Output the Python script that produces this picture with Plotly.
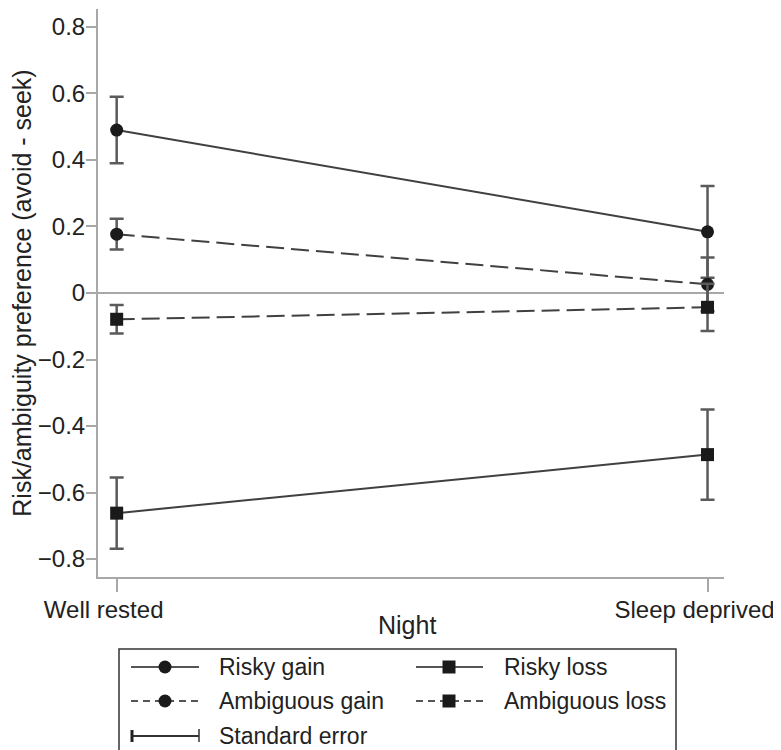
import plotly.graph_objects as go

# ---- data ----
nights = ["Well rested", "Sleep deprived"]
risky_gain = [0.49, 0.184]
risky_gain_se = [0.10, 0.138]
ambig_gain = [0.177, 0.026]
ambig_gain_se = [0.046, 0.081]
ambig_loss = [-0.079, -0.043]
ambig_loss_se = [0.043, 0.071]
risky_loss = [-0.662, -0.486]
risky_loss_se = [0.107, 0.136]

series = [
    ("Risky gain", risky_gain, risky_gain_se, "circle", "solid"),
    ("Ambiguous gain", ambig_gain, ambig_gain_se, "circle", "18px,7px"),
    ("Ambiguous loss", ambig_loss, ambig_loss_se, "square", "18px,7px"),
    ("Risky loss", risky_loss, risky_loss_se, "square", "solid"),
]

FONT = "Liberation Sans, Arial, sans-serif"
FS_LEG = 23
FS_AX = 25
OFF = 8  # page body margin offset
W, H = 781 - OFF, 750 - OFF
ML, MR, MT, MB = 98 - OFF, 57, 9 - OFF, 173
PW, PH = W - ML - MR, H - MT - MB

LINE_C = "#404040"
MARK_C = "#1a1a1a"
ERR_C = "#5a5a5a"
AXIS_C = "#a8a8a8"
TEXT_C = "#222222"

fig = go.Figure()
for name, vals, se, sym, dash in series:
    fig.add_trace(go.Scatter(
        x=nights, y=vals, name=name, mode="lines+markers",
        line=dict(color=LINE_C, width=2, dash=dash),
        marker=dict(symbol=sym, size=13, color=MARK_C),
        error_y=dict(type="data", array=se, visible=True, color=ERR_C,
                     thickness=2.5, width=7),
        showlegend=False,
    ))


def px(xs):
    return (xs - OFF - ML) / PW


def py(ys):
    return (H - MB - (ys - OFF)) / PH


shapes = []
annotations = []

# x-axis title
annotations.append(dict(text="Night", xref="paper", yref="paper",
                        x=px(407), y=py(625), xanchor="center", yanchor="middle",
                        showarrow=False,
                        font=dict(family=FONT, size=FS_AX, color=TEXT_C)))

# legend box
shapes.append(dict(type="rect", xref="paper", yref="paper",
                   x0=px(119), x1=px(676), y0=py(649), y1=py(775),
                   line=dict(color="#333333", width=1.5), fillcolor="rgba(0,0,0,0)"))

legend_items = [
    ("Risky gain", "circle", "solid", 131, 199, 165, 217, 667),
    ("Risky loss", "square", "solid", 416, 483, 449, 502, 667),
    ("Ambiguous gain", "circle", "7px,5px", 131, 199, 165, 217, 701),
    ("Ambiguous loss", "square", "7px,5px", 416, 483, 449, 502, 701),
]
for label, sym, dash, lx0, lx1, mx, tx, ly in legend_items:
    shapes.append(dict(type="line", xref="paper", yref="paper",
                       x0=px(lx0), x1=px(lx1), y0=py(ly), y1=py(ly),
                       line=dict(color="#555555", width=2, dash=dash)))
    shapes.append(dict(type="circle" if sym == "circle" else "rect",
                       xref="paper", yref="paper",
                       xsizemode="pixel", ysizemode="pixel",
                       xanchor=px(mx), yanchor=py(ly),
                       x0=-6.5, x1=6.5, y0=-6.5, y1=6.5,
                       fillcolor=MARK_C, line=dict(color=MARK_C, width=0)))
    annotations.append(dict(text=label, xref="paper", yref="paper",
                            x=px(tx), y=py(ly), xanchor="left", yanchor="middle",
                            showarrow=False,
                            font=dict(family=FONT, size=FS_LEG, color=TEXT_C)))

# standard error symbol
se_y = 736
shapes.append(dict(type="line", xref="paper", yref="paper",
                   x0=px(131), x1=px(199), y0=py(se_y), y1=py(se_y),
                   line=dict(color="#333333", width=2)))
shapes.append(dict(type="line", xref="paper", yref="paper",
                   x0=px(132), x1=px(132), y0=py(se_y - 6), y1=py(se_y + 6),
                   line=dict(color="#222222", width=3)))
shapes.append(dict(type="line", xref="paper", yref="paper",
                   x0=px(199), x1=px(199), y0=py(se_y - 7), y1=py(se_y + 6),
                   line=dict(color="#333333", width=1.5)))
annotations.append(dict(text="Standard error", xref="paper", yref="paper",
                        x=px(217), y=py(se_y), xanchor="left", yanchor="middle",
                        showarrow=False,
                        font=dict(family=FONT, size=FS_LEG, color=TEXT_C)))

fig.update_layout(
    width=W, height=H,
    margin=dict(l=ML, r=MR, t=MT, b=MB),
    paper_bgcolor="white", plot_bgcolor="white",
    font=dict(family=FONT, size=FS_AX, color=TEXT_C),
    shapes=shapes, annotations=annotations,
    xaxis=dict(
        type="category", range=[-0.0316, 1.0279],
        showline=True, linecolor=AXIS_C, linewidth=2,
        ticks="outside", ticklen=13, tickwidth=2, tickcolor=AXIS_C,
        showgrid=False, zeroline=False, ticklabelshift=-13,
        ticklabelstandoff=-3,
        tickfont=dict(family=FONT, size=24, color=TEXT_C),
    ),
    yaxis=dict(
        range=[-0.854, 0.854], dtick=0.2, tick0=0,
        showline=True, linecolor=AXIS_C, linewidth=2,
        ticks="outside", ticklen=10, tickwidth=2, tickcolor=AXIS_C,
        showgrid=False, zeroline=True, zerolinecolor=AXIS_C, zerolinewidth=2,
        ticklabelstandoff=-4,
        tickfont=dict(family=FONT, size=24, color=TEXT_C),
        title=dict(text="Risk/ambiguity preference (avoid - seek)", standoff=0,
                   font=dict(family=FONT, size=FS_AX, color=TEXT_C)),
    ),
)

fig.write_html("out.html")
